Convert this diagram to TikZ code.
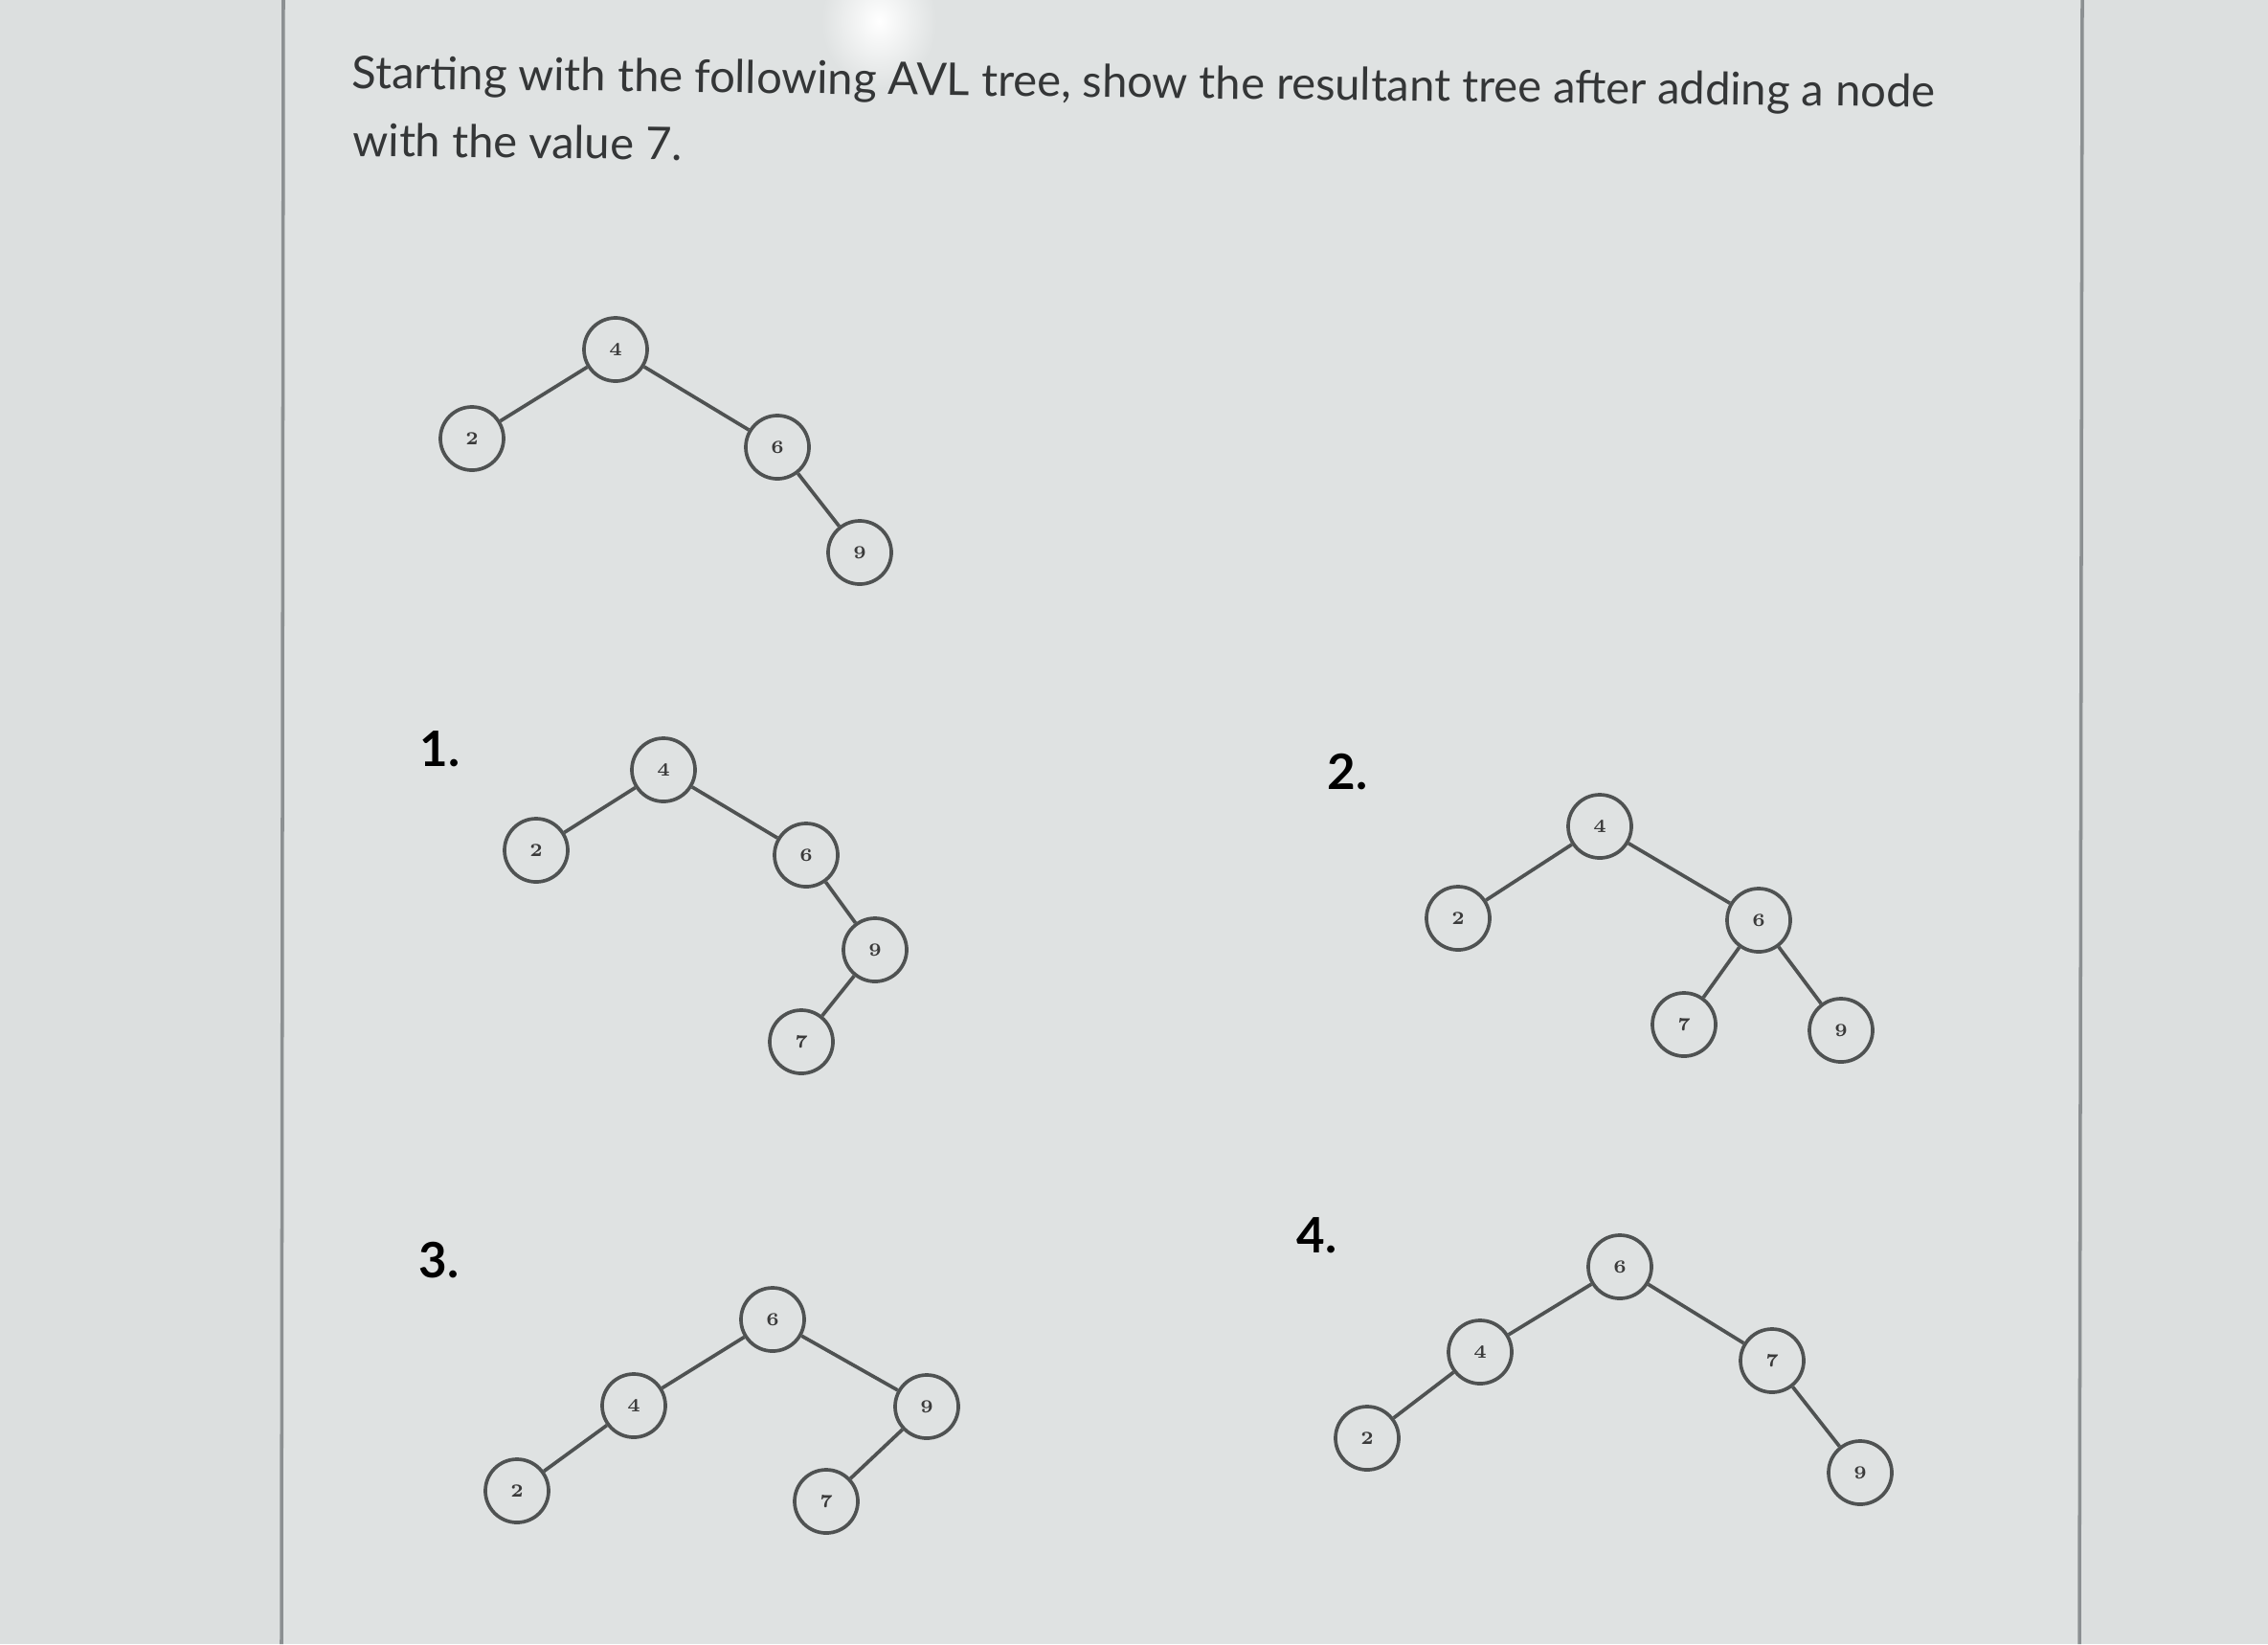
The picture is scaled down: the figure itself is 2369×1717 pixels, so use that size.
\documentclass[tikz,border=0pt]{standalone}
\usepackage{fontspec}
\newfontfamily\latofont{Lato}
\definecolor{outerbg}{HTML}{DCDFDF}
\definecolor{panelbg}{HTML}{DFE2E2}
\definecolor{bordergray}{HTML}{8C9092}
\definecolor{inkgray}{HTML}{4F5252}
\definecolor{digitgray}{HTML}{3A3A3A}
\definecolor{textgray}{HTML}{343637}
\begin{document}
\begin{tikzpicture}[x=0.01cm,y=-0.01cm,
    avl/.style={circle,draw=inkgray,line width=1.05pt,minimum size=0.66cm,inner sep=0pt,
      text=digitgray,font=\bfseries\fontsize{5.5}{5.5}\selectfont},
    edge/.style={draw=inkgray,line width=1.05pt},
    title/.style={anchor=base west,inner sep=0pt,text=textgray,
      font=\latofont\fontsize{13.4}{13.4}\selectfont},
    optlabel/.style={anchor=base west,inner sep=0pt,text=black,
      font=\latofont\bfseries\fontsize{14.5}{14.5}\selectfont}]
  \useasboundingbox (0,0) rectangle (2369,1717);

  % Screen and page panel
  \fill[outerbg] (0,0) rectangle (2369,1717);
  \fill[panelbg] (296,0) rectangle (2174,1717);
  \draw[bordergray,line width=1pt] (296,0) -- (294,1717);
  \draw[bordergray,line width=1pt] (2175,0) -- (2172,1717);

  % Glare
  \shade[inner color=white,outer color=panelbg] (918,22) ellipse (0.6cm and 0.7cm);

  % Question text
  \node[title,rotate=-0.7] (line1) at (367,92)
    {Starting with the following AVL tree, show the resultant tree after adding a node};
  \node[title,rotate=-0.7] (line2) at (368,163) {with the value 7.};

  % Starting tree
  \node[avl] (q4) at (643,365) {4};
  \node[avl] (q2) at (493,458) {2};
  \node[avl] (q6) at (812,467) {6};
  \node[avl] (q9) at (898,577) {9};
  \foreach \u/\v in {q4/q2,q4/q6,q6/q9}
    \draw[edge] (\u) -- (\v);

  % Option 1
  \node[optlabel] (opt1) at (438,800) {1.};
  \node[avl] (a4) at (693,804) {4};
  \node[avl] (a2) at (560,888) {2};
  \node[avl] (a6) at (842,893) {6};
  \node[avl] (a9) at (914,992) {9};
  \node[avl] (a7) at (837,1088) {7};
  \foreach \u/\v in {a4/a2,a4/a6,a6/a9,a9/a7}
    \draw[edge] (\u) -- (\v);

  % Option 2
  \node[optlabel] (opt2) at (1386,824) {2.};
  \node[avl] (b4) at (1671,863) {4};
  \node[avl] (b2) at (1523,959) {2};
  \node[avl] (b6) at (1837,961) {6};
  \node[avl] (b7) at (1759,1070) {7};
  \node[avl] (b9) at (1923,1076) {9};
  \foreach \u/\v in {b4/b2,b4/b6,b6/b7,b6/b9}
    \draw[edge] (\u) -- (\v);

  % Option 3
  \node[optlabel] (opt3) at (437,1334) {3.};
  \node[avl] (c6) at (807,1378) {6};
  \node[avl] (c4) at (662,1468) {4};
  \node[avl] (c2) at (540,1557) {2};
  \node[avl] (c9) at (968,1469) {9};
  \node[avl] (c7) at (863,1568) {7};
  \foreach \u/\v in {c6/c4,c4/c2,c6/c9,c9/c7}
    \draw[edge] (\u) -- (\v);

  % Option 4
  \node[optlabel] (opt4) at (1354,1308) {4.};
  \node[avl] (d6) at (1692,1323) {6};
  \node[avl] (d4) at (1546,1412) {4};
  \node[avl] (d2) at (1428,1502) {2};
  \node[avl] (d7) at (1851,1421) {7};
  \node[avl] (d9) at (1943,1538) {9};
  \foreach \u/\v in {d6/d4,d4/d2,d6/d7,d7/d9}
    \draw[edge] (\u) -- (\v);
\end{tikzpicture}
\end{document}
